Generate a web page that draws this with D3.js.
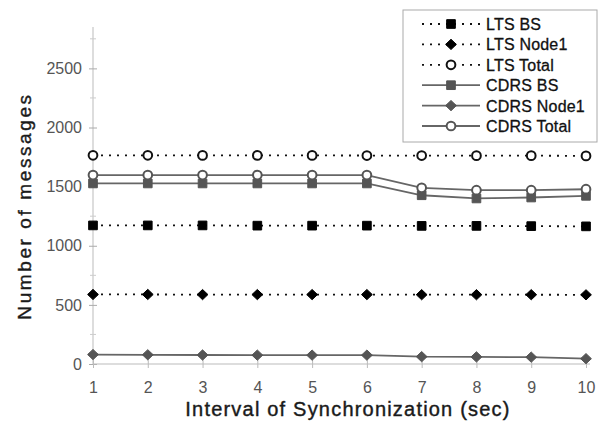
<!DOCTYPE html>
<html><head><meta charset="utf-8">
<script src="https://cdn.jsdelivr.net/npm/d3@7"></script>
<style>body{margin:0;background:#fff}svg{display:block}</style>
</head><body>
<svg id="c" width="606" height="424"></svg>
<script>
const xValues = [1,2,3,4,5,6,7,8,9,10];
const yTicks = [0,500,1000,1500,2000,2500];
const ltsBS = [1172,1172,1172,1170,1170,1170,1168,1168,1166,1164];
const ltsNode1 = [588,588,587,587,587,587,586,586,586,585];
const ltsTotal = [1765,1765,1764,1764,1764,1763,1763,1762,1762,1760];
const cdrsBS = [1527,1527,1527,1527,1527,1527,1427,1400,1408,1422];
const cdrsNode1 = [80,78,76,75,75,75,62,60,58,45];
const cdrsTotal = [1598,1598,1598,1598,1598,1598,1490,1470,1470,1478];
const seriesNames = ["LTS BS","LTS Node1","LTS Total","CDRS BS","CDRS Node1","CDRS Total"];

const FONT = "Liberation Sans, Arial, Helvetica, sans-serif";
const diamond = {draw(ctx, size){const r=Math.sqrt(size)/2*1.15; const w=r*1.05;
  ctx.moveTo(0,-r);ctx.lineTo(w,0);ctx.lineTo(0,r);ctx.lineTo(-w,0);ctx.closePath();}};

const series = [
  {name:seriesNames[0], vals:ltsBS, dash:"2,6", line:"#111", sym:d3.symbolSquare, fill:"#000", stroke:"#000", size:75},
  {name:seriesNames[1], vals:ltsNode1, dash:"2,6", line:"#111", sym:diamond, fill:"#000", stroke:"#000", size:80},
  {name:seriesNames[2], vals:ltsTotal, dash:"2,6", line:"#111", sym:d3.symbolCircle, fill:"#fff", stroke:"#111", size:60},
  {name:seriesNames[3], vals:cdrsBS, dash:null, line:"#666", sym:d3.symbolSquare, fill:"#555", stroke:"#555", size:75},
  {name:seriesNames[4], vals:cdrsNode1, dash:null, line:"#666", sym:diamond, fill:"#555", stroke:"#555", size:80},
  {name:seriesNames[5], vals:cdrsTotal, dash:null, line:"#666", sym:d3.symbolCircle, fill:"#fff", stroke:"#555", size:60}
];

const svg = d3.select("#c");
const x = d3.scaleLinear().domain([1,10]).range([93,586]);
const y = d3.scaleLinear().domain([0,2850]).range([364,27]);

// axes
const yAxis = d3.axisLeft(y).tickValues(yTicks).tickSize(4).tickPadding(7).tickFormat(d3.format("d"));
const gy = svg.append("g").attr("transform","translate(93,0)").call(yAxis);
gy.select(".domain").attr("stroke","#bbb").attr("d","M0,27V364");
gy.selectAll(".tick line").attr("stroke","#aaa").attr("x2",4).attr("x1",-4);
gy.selectAll(".tick text").attr("fill","#555").style("font-family",FONT).style("font-size","16px");
// minor ticks
svg.append("g").selectAll("line").data([250,750,1250,1750,2250,2750]).join("line")
  .attr("x1",90).attr("x2",96).attr("y1",d=>y(d)).attr("y2",d=>y(d)).attr("stroke","#ccc");

const xAxis = d3.axisBottom(x).tickValues(xValues).tickSize(4).tickPadding(14).tickFormat(d3.format("d"));
const gx = svg.append("g").attr("transform","translate(0,364)").call(xAxis);
gx.select(".domain").attr("stroke","#bbb").attr("d","M93,0H590");
gx.selectAll(".tick line").attr("stroke","#bbb").attr("y1",-4).attr("y2",4);
gx.selectAll(".tick text").attr("fill","#555").style("font-family",FONT).style("font-size","16px");

// axis titles
svg.append("text").attr("x",348).attr("y",416).attr("text-anchor","middle")
  .style("font-family",FONT).style("font-size","20px").style("letter-spacing","1.2px")
  .attr("fill","#1a1a1a").attr("stroke","#1a1a1a").attr("stroke-width",0.4)
  .text("Interval of Synchronization (sec)");
svg.append("text").attr("transform","translate(31,206) rotate(-90)").attr("text-anchor","middle")
  .style("font-family",FONT).style("font-size","19px").style("letter-spacing","2.6px")
  .attr("fill","#1a1a1a").attr("stroke","#1a1a1a").attr("stroke-width",0.4)
  .text("Number of messages");

// lines
const line = d3.line().x((d,i)=>x(xValues[i])).y(d=>y(d));
series.forEach(s=>{
  svg.append("path").attr("d",line(s.vals)).attr("fill","none")
    .attr("stroke",s.line).attr("stroke-width",s.dash?1.8:1.8)
    .attr("stroke-dasharray",s.dash);
  svg.append("g").selectAll("path").data(s.vals).join("path")
    .attr("transform",(d,i)=>`translate(${x(xValues[i])},${y(d)})`)
    .attr("d",d3.symbol().type(s.sym).size(s.size))
    .attr("fill",s.fill).attr("stroke",s.stroke).attr("stroke-width",s.sym===d3.symbolCircle?2:1);
});

// legend
const lg = svg.append("g");
lg.append("rect").attr("x",403).attr("y",10).attr("width",194).attr("height",132)
  .attr("fill","#fff").attr("stroke","#aaa").attr("stroke-width",1);
series.forEach((s,i)=>{
  const yy = 24 + i*20.4;
  lg.append("line").attr("x1",422).attr("x2",480).attr("y1",yy).attr("y2",yy)
    .attr("stroke",s.line).attr("stroke-width",s.dash?1.8:1.8).attr("stroke-dasharray",s.dash);
  lg.append("path").attr("transform",`translate(451,${yy})`)
    .attr("d",d3.symbol().type(s.sym).size(s.size))
    .attr("fill",s.fill).attr("stroke",s.stroke).attr("stroke-width",s.sym===d3.symbolCircle?2:1);
  lg.append("text").attr("x",486).attr("y",yy+6)
    .style("font-family",FONT).style("font-size","16px").style("letter-spacing","0.2px")
    .attr("fill","#111").attr("stroke","#111").attr("stroke-width",0.3)
    .text(s.name);
});
</script>
</body></html>
